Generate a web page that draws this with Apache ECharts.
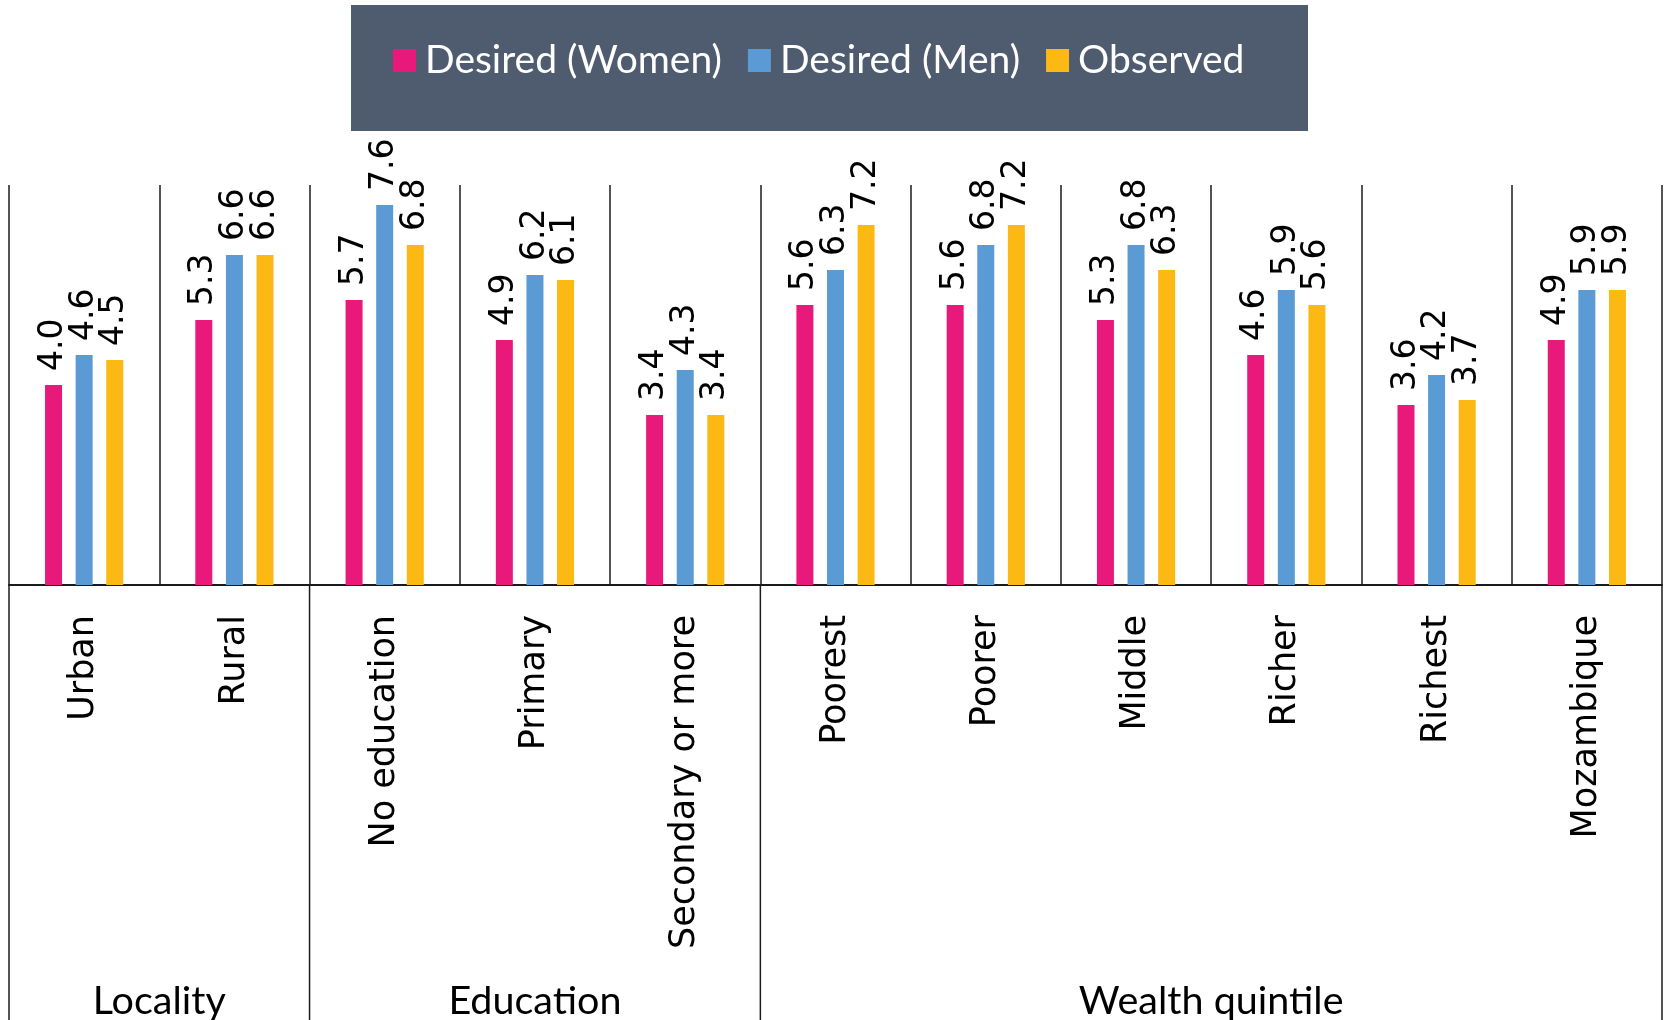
<!DOCTYPE html>
<html>
<head>
<meta charset="utf-8">
<title>Desired vs observed fertility</title>
<script src="https://cdn.jsdelivr.net/npm/echarts@6.0.0/dist/echarts.min.js"></script>
<style>
  html, body { margin: 0; padding: 0; background: #fff; }
  #chart { width: 1665px; height: 1020px; }
</style>
</head>
<body>
<div id="chart"></div>
<script>
// categories along the x axis
const categories = ["Urban", "Rural", "No education", "Primary", "Secondary or more",
	"Poorest", "Poorer", "Middle", "Richer", "Richest", "Mozambique"];

// series values
const desiredWomen = [4.0, 5.3, 5.7, 4.9, 3.4, 5.6, 5.6, 5.3, 4.6, 3.6, 4.9];
const desiredMen = [4.6, 6.6, 7.6, 6.2, 4.3, 6.3, 6.8, 6.8, 5.9, 4.2, 5.9];
const observed = [4.5, 6.6, 6.8, 6.1, 3.4, 7.2, 7.2, 6.3, 5.6, 3.7, 5.9];

// group headers under the category labels
const groupNames = ["Locality", "Education", "Wealth quintile"];
const groupSizes = [2, 3, 6];

const seriesNames = ["Desired (Women)", "Desired (Men)", "Observed"];
const colors = ["#e8197b", "#5b9bd5", "#fdb913"];

// group boundaries and centres, counted in categories
const boundaries = [0];
const groupCentres = [];
groupSizes.forEach(function (n, i) {
	const start = boundaries[boundaries.length - 1];
	boundaries.push(start + n);
	groupCentres.push([start + n / 2, groupNames[i]]);
});

const chart = echarts.init(document.getElementById("chart"), null, { renderer: "canvas" });

function barSeries(name, values, color) {
	return {
		name: name,
		type: "bar",
		data: values,
		barWidth: 17,
		barGap: "80%",
		itemStyle: { color: color },
		label: {
			show: true,
			position: "top",
			rotate: 90,
			align: "left",
			verticalAlign: "middle",
			distance: 14,
			fontFamily: "DejaVu Sans",
			fontSize: 33,
			color: "#000",
			formatter: function (p) { return p.value.toFixed(1); }
		}
	};
}

const option = {
	animation: false,
	color: colors,
	graphic: [{
		type: "rect",
		z: 0,
		shape: { x: 351, y: 5, width: 957, height: 126 },
		style: { fill: "#4f5b6e" }
	}],
	legend: {
		data: seriesNames,
		left: 393,
		top: 41,
		padding: 0,
		icon: "rect",
		itemWidth: 23,
		itemHeight: 23,
		itemGap: 26,
		textStyle: {
			color: "#fff",
			fontFamily: "Lato",
			fontSize: 39,
			padding: [0, 0, 0, 4]
		}
	},
	grid: [
		{ left: 9, right: 3, top: 185, height: 400 },
		{ left: 9, right: 3, top: 585, bottom: 0 }
	],
	xAxis: [{
		type: "category",
		gridIndex: 0,
		data: categories,
		axisLine: { lineStyle: { color: "#1a1a1a", width: 2 } },
		axisTick: { show: false },
		splitLine: { show: true, lineStyle: { color: "#1a1a1a", width: 1.5 } },
		axisLabel: {
			interval: 0,
			rotate: 90,
			margin: 30,
			fontFamily: "DejaVu Sans",
			fontSize: 35,
			color: "#000"
		}
	}, {
		type: "value",
		gridIndex: 1,
		min: 0,
		max: categories.length,
		show: false
	}],
	yAxis: [
		{ type: "value", gridIndex: 0, min: 0, max: 8, show: false },
		{ type: "value", gridIndex: 1, min: 0, max: 1, show: false }
	],
	series: [
		barSeries(seriesNames[0], desiredWomen, colors[0]),
		barSeries(seriesNames[1], desiredMen, colors[1]),
		barSeries(seriesNames[2], observed, colors[2]),
		{
			// vertical separators between the groups, below the axis
			type: "custom",
			xAxisIndex: 1,
			yAxisIndex: 1,
			silent: true,
			data: boundaries.map(function (b) { return [b]; }),
			renderItem: function (params, api) {
				const top = api.coord([api.value(0), 1]);
				const bottom = api.coord([api.value(0), 0]);
				return {
					type: "line",
					shape: { x1: top[0], y1: top[1], x2: bottom[0], y2: bottom[1] },
					style: { stroke: "#1a1a1a", lineWidth: 1.5 }
				};
			}
		},
		{
			// group names
			type: "custom",
			xAxisIndex: 1,
			yAxisIndex: 1,
			silent: true,
			data: groupCentres,
			renderItem: function (params, api) {
				const p = api.coord([api.value(0), 0]);
				return {
					type: "text",
					style: {
						text: groupCentres[params.dataIndex][1],
						x: p[0],
						y: p[1] - 19,
						textAlign: "center",
						textVerticalAlign: "middle",
						fontFamily: "Lato",
						fontSize: 39.5,
						fill: "#000"
					}
				};
			}
		}
	]
};

chart.setOption(option);
</script>
</body>
</html>
